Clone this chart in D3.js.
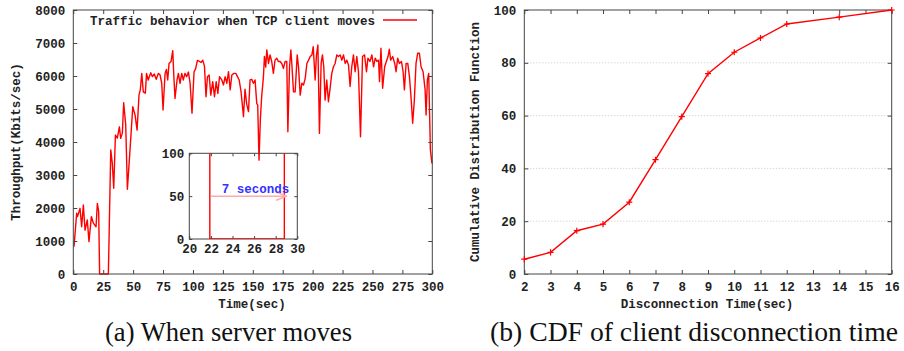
<!DOCTYPE html>
<html>
<head>
<meta charset="utf-8">
<script src="https://cdn.jsdelivr.net/npm/d3@7"></script>
<style>
  body { margin: 0; background: #fff; }
  .tk text { font-family: "Liberation Mono", monospace; font-weight: bold; font-size: 12.5px; fill: #222; }
  .tk path, .tk line { stroke: #444; }
  .lbl { font-family: "Liberation Mono", monospace; font-weight: bold; font-size: 12.5px; fill: #222; }
  .cap { font-family: "Liberation Serif", serif; font-size: 26.5px; fill: #111; }
</style>
</head>
<body>
<svg id="fig" width="904" height="351"></svg>
<script>
// (a) throughput while the server moves
var timeSec = [0.6, 2.8, 3.5, 5.6, 7, 8.4, 9.8, 11.7, 13.1, 15.1, 16.8, 19, 20.1, 21.2, 22, 29.3,
  31.3, 32.6, 33.8, 35.2, 36.8, 38.5, 39.6, 41, 42.1, 43.8, 45.2, 47.4, 49.7, 51.6, 53.3, 54.9,
  56, 57.2, 58.5, 60.2, 61.2, 62.6, 64.7, 66.1, 67.7, 69.3, 71.1, 72.5, 73.9, 75, 76.7, 77.8,
  78.9, 80, 81.7, 83.1, 83.9, 85, 86.7, 87.8, 89.2, 90.6, 91.9, 93.3, 94.7, 96.2, 97.6, 99.2,
  100.9, 102.3, 103.7, 105.4, 106.8, 108.2, 109.6, 110.9, 112.1, 113.5, 114.9, 116.5, 118, 119.4,
  120.8, 122.2, 124.1, 125.5, 126.9, 128.3, 129.7, 131.1, 132.5, 134.2, 135.8, 137.2, 138.6, 140.2,
  142.2, 143.5, 144.9, 146.4, 147.7, 149.1, 150.5, 151.9, 153.3, 154.1, 155.2, 156.3, 157.4, 158.9,
  159.7, 160.8, 161.7, 163.1, 164.4, 165.8, 167.2, 168.6, 170, 171.4, 172.8, 174.2, 175.6, 177,
  178.4, 179.3, 180.7, 181.8, 182.6, 184, 185.4, 187.1, 188.2, 189.6, 191, 192.4, 193.8, 195.2,
  196.6, 198, 199.4, 200.5, 202.1, 203.2, 204.4, 205.7, 207.1, 208.2, 209.3, 210.4, 211.8, 213.2,
  214.6, 216, 217.4, 218.8, 220.2, 221.6, 223, 224.4, 225.8, 227.2, 228.6, 230, 231.3, 232.7,
  234.1, 235.5, 236.9, 238.3, 240, 241.7, 243.4, 245, 246.2, 247.9, 249.5, 250.9, 252.3, 253.7,
  255.1, 255.9, 257.1, 258.5, 260.2, 261.6, 263, 264.1, 265.2, 266.9, 268.6, 269.7, 271.1, 272.5,
  274.2, 275.6, 276.7, 278.1, 279.5, 280.9, 282.2, 283.6, 285, 286.4, 287.8, 289.2, 290.6, 292.3,
  294, 294.8, 295.9, 297, 298.4, 299.7];
var throughput = [830, 1840, 1740, 1990, 1430, 2090, 1330, 1640, 980, 1740, 1540, 1430, 2140, 1890, 0, 0,
  3760, 3350, 2600, 4210, 4120, 4460, 4110, 4270, 5190, 4520, 2570, 3760, 5070, 4820, 4360, 5420,
  5580, 6080, 5520, 5480, 6080, 5880, 6100, 5980, 6060, 5900, 6080, 6030, 5780, 4970, 6080, 6200,
  5880, 6380, 6440, 6770, 6080, 5320, 5880, 6080, 5780, 6080, 5880, 6080, 5980, 6120, 5780, 4870,
  6120, 6230, 6470, 6440, 6410, 6480, 6300, 5370, 5980, 6030, 5420, 5830, 5370, 5830,
  5470, 5980, 5880, 5730, 5980, 5780, 6130, 5580, 6030, 6080, 6080, 5980, 5880, 5520,
  4770, 5600, 5150, 4920, 5880, 5900, 5780, 5880, 5170, 5120, 3450, 4670, 5370, 5980,
  6590, 6270, 6790, 6380, 6640, 6440, 6080, 6480, 6540, 6440, 6440, 6380, 6230, 6440,
  6440, 4310, 6280, 6790, 6380, 5520, 5520, 6640, 6280, 5420, 5780, 5730, 5930, 6380,
  6480, 6590, 6640, 6890, 5880, 6640, 6940, 4260, 6380, 6640, 6280, 5270, 5880, 5220,
  5630, 6080, 6280, 6380, 6640, 6590, 6640, 6480, 6640, 6380, 6480, 6330, 5680, 6280,
  6640, 6130, 6590, 6130, 4160, 6590, 6640, 6130, 6540, 6440, 6640, 6280, 6540, 6440,
  6480, 5830, 6840, 5630, 6280, 6440, 6590, 6810, 6480, 6590, 6380, 6130, 6540, 6380,
  6440, 6130, 5580, 6380, 6380, 5980, 5370, 4570, 5270, 6380, 6690, 6690, 6280, 6130,
  5580, 4820, 5880, 6080, 3760, 3350];
var seriesName = "Traffic behavior when TCP client moves";

// inset: zoom on the outage
var insetTime = [21.9, 21.9, 28.8, 28.8];
var insetValue = [1890, 0, 0, 3760];
var gapFrom = 22, gapTo = 29, gapLevel = 50, gapText = "7 seconds";

// (b) CDF of disconnection time
var discTime = [2, 3, 4, 5, 6, 7, 8, 9, 10, 11, 12, 14, 16];
var cdfValue = [5.6, 8.2, 16.4, 18.9, 27.2, 43.3, 59.6, 75.9, 84.0, 89.4, 94.7, 97.3, 100];

var svg = d3.select("#fig");
var plain = d3.format("d");

function frame(g, x, y, xTicks, yTicks, len, pad) {
  var x0 = x.range()[0], x1 = x.range()[1], y0 = y.range()[0], y1 = y.range()[1];
  g.append("g").attr("class", "tk").attr("transform", "translate(0," + y0 + ")")
    .call(d3.axisBottom(x).tickValues(xTicks).tickSize(-len).tickPadding(pad).tickSizeOuter(0).tickFormat(plain));
  g.append("g").attr("class", "tk").attr("transform", "translate(0," + y1 + ")")
    .call(d3.axisTop(x).tickValues(xTicks).tickSize(-len).tickFormat("").tickSizeOuter(0));
  g.append("g").attr("class", "tk").attr("transform", "translate(" + x0 + ",0)")
    .call(d3.axisLeft(y).tickValues(yTicks).tickSize(-len).tickPadding(pad).tickSizeOuter(0).tickFormat(plain));
  g.append("g").attr("class", "tk").attr("transform", "translate(" + x1 + ",0)")
    .call(d3.axisRight(y).tickValues(yTicks).tickSize(-len).tickFormat("").tickSizeOuter(0));
  g.selectAll(".tk .domain").remove();
  g.append("rect").attr("x", x0).attr("y", y1).attr("width", x1 - x0).attr("height", y0 - y1)
    .attr("fill", "none").attr("stroke", "#444");
}

/* ------- (a) throughput ------- */
var xa = d3.scaleLinear().domain([0, 300]).range([73.3, 432.3]);
var ya = d3.scaleLinear().domain([0, 8000]).range([274, 10]);
var ga = svg.append("g");

ga.append("path")
  .datum(d3.zip(timeSec, throughput))
  .attr("fill", "none").attr("stroke", "#ff0000").attr("stroke-width", 1.4)
  .attr("stroke-linejoin", "round")
  .attr("d", d3.line().x(d => xa(d[0])).y(d => ya(d[1])));

frame(ga, xa, ya, d3.range(0, 301, 25), d3.range(0, 8001, 1000), 4, 8);

// legend
ga.append("text").attr("class", "lbl").attr("x", 90).attr("y", 25).text(seriesName);
ga.append("line").attr("x1", 383).attr("x2", 417).attr("y1", 20).attr("y2", 20)
  .attr("stroke", "#ff0000").attr("stroke-width", 1.4);

ga.append("text").attr("class", "lbl").attr("text-anchor", "middle")
  .attr("x", 252).attr("y", 308).text("Time(sec)");
ga.append("text").attr("class", "lbl").attr("text-anchor", "middle")
  .attr("transform", "translate(20,142) rotate(-90)").text("Throughput(Kbits/sec)");

// inset
var xi = d3.scaleLinear().domain([20, 30]).range([189.3, 297.3]);
var yi = d3.scaleLinear().domain([0, 100]).range([239, 153.3]);
var gi = svg.append("g");
gi.append("clipPath").attr("id", "ic").append("rect")
  .attr("x", 189.3).attr("y", 153.3).attr("width", 108).attr("height", 85.7);

frame(gi, xi, yi, d3.range(20, 31, 2), [0, 50, 100], 3, 5);

gi.append("path")
  .datum(d3.zip(insetTime, insetValue))
  .attr("clip-path", "url(#ic)")
  .attr("fill", "none").attr("stroke", "#ff0000").attr("stroke-width", 1.4)
  .attr("d", d3.line().x(d => xi(d[0])).y(d => yi(d[1])));

var defs = svg.append("defs");
defs.append("marker").attr("id", "ah").attr("viewBox", "0 0 10 10")
  .attr("refX", 10).attr("refY", 5).attr("markerWidth", 7).attr("markerHeight", 7)
  .attr("orient", "auto")
  .append("path").attr("d", "M0,1L10,5L0,9").attr("fill", "none").attr("stroke", "#ffaaaa").attr("stroke-width", 1.5);
gi.append("line")
  .attr("x1", xi(gapFrom)).attr("x2", xi(gapTo)).attr("y1", yi(gapLevel)).attr("y2", yi(gapLevel))
  .attr("stroke", "#ffaaaa").attr("stroke-width", 1.5).attr("marker-end", "url(#ah)");
gi.append("text").attr("class", "lbl").style("fill", "#3333ff")
  .attr("x", xi(23)).attr("y", yi(gapLevel) - 3).text(gapText);

/* ------- (b) CDF ------- */
var xb = d3.scaleLinear().domain([2, 16]).range([524.3, 891.7]);
var yb = d3.scaleLinear().domain([0, 100]).range([274, 10]);
var gb = svg.append("g");

gb.selectAll("line.grid").data([20, 40, 60, 80]).enter().append("line")
  .attr("class", "grid")
  .attr("x1", xb(2)).attr("x2", xb(16)).attr("y1", d => yb(d)).attr("y2", d => yb(d))
  .attr("stroke", "#bbb").attr("stroke-width", 0.8).attr("stroke-dasharray", "1,2");

frame(gb, xb, yb, d3.range(2, 17, 1), d3.range(0, 101, 20), 4, 8);

gb.append("path")
  .datum(d3.zip(discTime, cdfValue))
  .attr("fill", "none").attr("stroke", "#ff0000").attr("stroke-width", 1.4)
  .attr("d", d3.line().x(d => xb(d[0])).y(d => yb(d[1])));

gb.selectAll("path.pt").data(d3.zip(discTime, cdfValue)).enter().append("path")
  .attr("class", "pt")
  .attr("transform", d => "translate(" + xb(d[0]) + "," + yb(d[1]) + ")")
  .attr("d", d3.symbol(d3.symbolPlus, 14))
  .attr("fill", "none").attr("stroke", "#ff0000").attr("stroke-width", 1.2);

gb.append("text").attr("class", "lbl").attr("text-anchor", "middle")
  .attr("x", 707).attr("y", 308).text("Disconnection Time(sec)");
gb.append("text").attr("class", "lbl").attr("text-anchor", "middle")
  .attr("transform", "translate(479,142) rotate(-90)").text("Cumulative Distribution Function");

/* ------- captions ------- */
svg.append("text").attr("class", "cap").attr("x", 105).attr("y", 341)
  .attr("textLength", 247).attr("lengthAdjust", "spacingAndGlyphs").text("(a) When server moves");
svg.append("text").attr("class", "cap").attr("x", 490).attr("y", 341)
  .attr("textLength", 408).attr("lengthAdjust", "spacingAndGlyphs").text("(b) CDF of client disconnection time");
</script>
</body>
</html>
